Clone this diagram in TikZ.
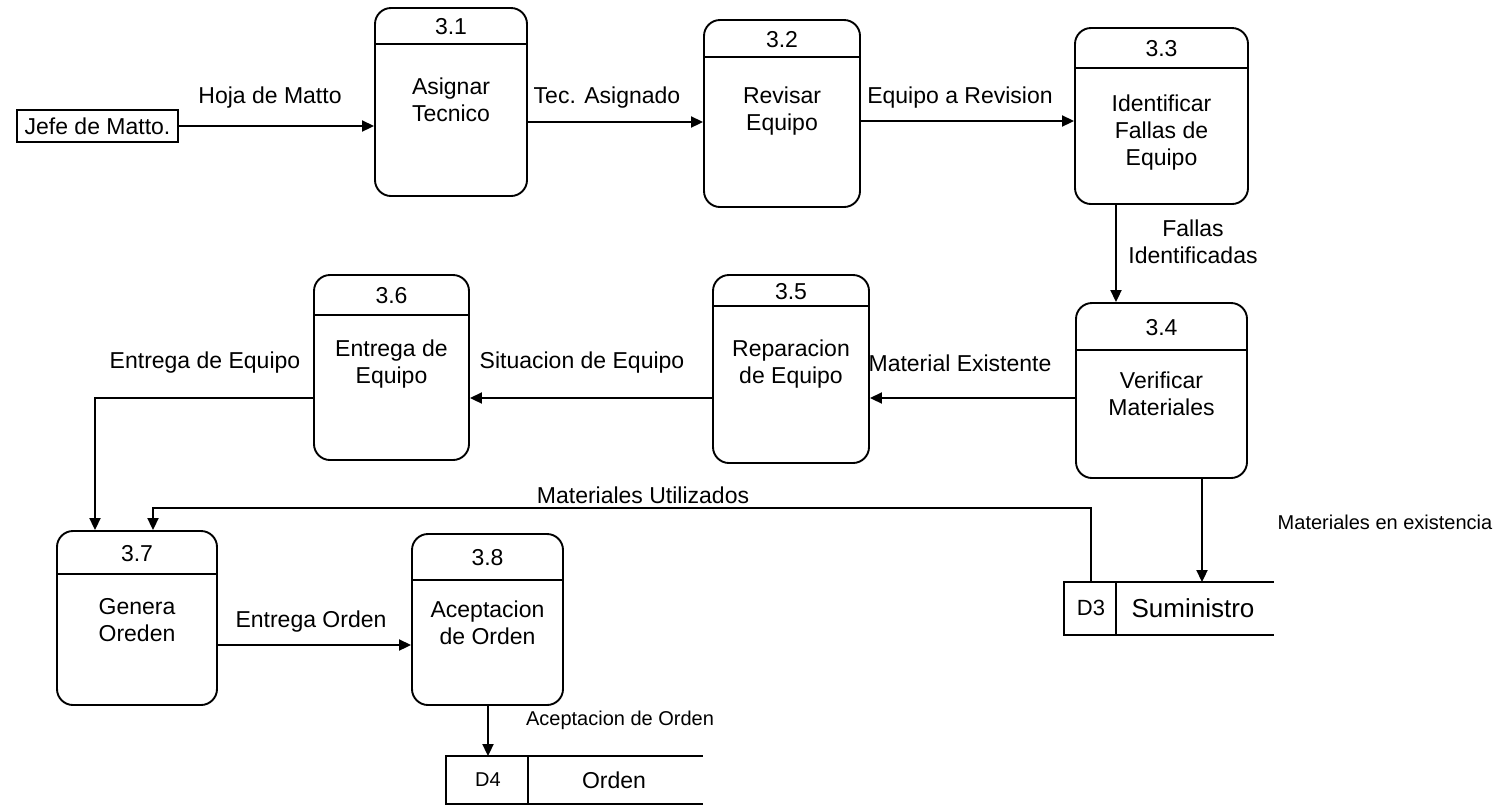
\documentclass[tikz,border=0pt]{standalone}
\usepackage{fontspec}
\setmainfont{Liberation Sans}
\usetikzlibrary{arrows.meta,calc}
\newcommand\procbox[9]{%
  \node[proc, minimum width={(#4-#2)*0.5pt}, minimum height={(#5-#3)*0.5pt}] (#1) at ({(#2+#4)/2},{(#3+#5)/2}) {};
  \draw (#1.west |- 0,#6) -- (#1.east |- 0,#6);
  \node[lbl] (#1num) at ({(#2+#4)/2},{(#3+#6)/2+1}) {#7};
  \node[lbl] (#1txt) at ({(#2+#4)/2},#8) {#9};
}
\begin{document}
\begin{tikzpicture}[x=0.5pt,y=-0.5pt, line width=0.95pt,
  proc/.style={draw, rounded corners=8pt, inner sep=0pt},
  lbl/.style={font=\fontsize{11.5}{13.5}\selectfont, align=center, inner sep=0pt},
  small/.style={font=\fontsize{10}{12}\selectfont, inner sep=0pt},
  arr/.style={-{Triangle[length=6pt,width=5.5pt]}},
  store/.style={inner sep=0pt}
]
\useasboundingbox (0,0) rectangle (1505,805);

% processes
\procbox{p31}{375}{8}{527}{196}{44}{3.1}{100}{Asignar\\Tecnico}
\procbox{p32}{704}{20}{860}{207}{57}{3.2}{111}{Revisar\\Equipo}
\procbox{p33}{1075}{28}{1248}{204}{68}{3.3}{133}{Identificar\\Fallas de\\Equipo}
\procbox{p34}{1076}{303}{1247}{478}{350}{3.4}{394}{Verificar\\Materiales}
\procbox{p35}{713}{275}{869}{463}{306}{3.5}{364}{Reparacion\\de Equipo}
\procbox{p36}{314}{275}{469}{460}{315}{3.6}{364}{Entrega de\\Equipo}
\procbox{p37}{57}{531}{217}{705}{574}{3.7}{620}{Genera\\Oreden}
\procbox{p38}{412}{534}{563}{705}{580}{3.8}{623}{Aceptacion\\de Orden}

% external entity
\node[draw, lbl, inner xsep=4pt, inner ysep=0pt, minimum height=16pt] (jefe) at (97.5,126) {Jefe de Matto.};

% data stores
\node[store, minimum width=104pt, minimum height=25.5pt] (d3) at (1169,608.5) {};
\draw (d3.north east) -- (d3.north west) -- (d3.south west) -- (d3.south east);
\draw ($(d3.north west)+(52,0)$) -- ($(d3.south west)+(52,0)$);
\node[font=\fontsize{11}{13}\selectfont, inner sep=0pt] (d3id) at (1091,608) {D3};
\node[font=\fontsize{13}{15}\selectfont, inner sep=0pt] (d3name) at (1193,608) {Suministro};

\node[store, minimum width=127.5pt, minimum height=23pt] (d4) at (574.5,780) {};
\draw (d4.north east) -- (d4.north west) -- (d4.south west) -- (d4.south east);
\draw ($(d4.north west)+(82,0)$) -- ($(d4.south west)+(82,0)$);
\node[small] (d4id) at (488,780) {D4};
\node[lbl] (d4name) at (614,780) {Orden};

% flows
\draw[arr] (jefe.east) -- (jefe.east -| p31.west);
\node[lbl] (l1) at (270,98) {Hoja de Matto};

\draw[arr] (p31.east |- 0,122) -- (p32.west |- 0,122);
\node[lbl] (l2) at (607,98) {Tec. Asignado};

\draw[arr] (p32.east |- 0,121) -- (p33.west |- 0,121);
\node[lbl] (l3) at (960,98) {Equipo a Revision};

\draw[arr] (p33.south -| 1116,0) -- (p34.north -| 1116,0);
\node[lbl] (l4) at (1193,242) {Fallas\\Identificadas};

\draw[arr] (p34.west |- 0,398) -- (p35.east |- 0,398);
\node[lbl] (l5) at (960,363) {Material Existente};

\draw[arr] (p35.west |- 0,398) -- (p36.east |- 0,398);
\node[lbl] (l6) at (582,363) {Situacion de Equipo};

\draw[arr] (p36.west |- 0,398) -| (p37.north -| 95,0);
\node[lbl] (l7) at (205,363) {Entrega de Equipo};

\coordinate (mu) at ($(d3.north west)+(27,0)$);
\coordinate (mucorner) at (153,508);
\draw[arr] (mu) |- (mucorner) -- (p37.north -| mucorner);
\node[lbl] (l8) at (643,495) {Materiales Utilizados};

\draw[arr] (p34.south -| 1202,0) -- (d3.north -| 1202,0);
\node[small] (l9) at (1385,522) {Materiales en existencia};

\draw[arr] (p37.east |- 0,645) -- (p38.west |- 0,645);
\node[lbl] (l10) at (311,622) {Entrega Orden};

\draw[arr] (p38.south -| 488,0) -- (d4.north -| 488,0);
\node[small] (l11) at (620,720) {Aceptacion de Orden};
\end{tikzpicture}
\end{document}
